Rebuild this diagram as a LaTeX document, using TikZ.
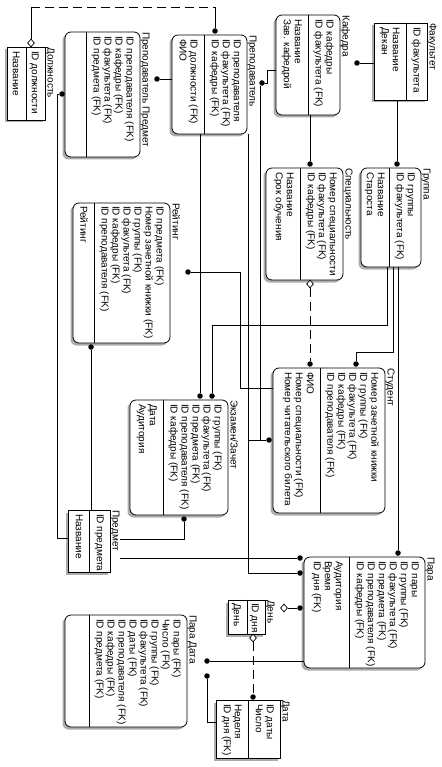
\documentclass[tikz,border=0pt]{standalone}
\usepackage{fontspec}
\setmainfont{Liberation Sans}
\usetikzlibrary{shapes.geometric,shadows,calc}
\newcommand{\ERfont}{\fontsize{10}{11}\selectfont}
\begin{document}
\begin{tikzpicture}[x=1pt,y=-1pt,
  ent/.style={draw, line width=0.8pt, fill=white, inner sep=0,
    drop shadow={shadow xshift=-2.5pt,shadow yshift=-2.5pt,fill=gray!65,opacity=1}},
  dep/.style={ent, rounded corners=6pt},
  ttl/.style={rotate=-90, anchor=base west, inner sep=0, font=\ERfont},
  attrs/.style={rotate=-90, anchor=north west, inner sep=0, align=left, font=\ERfont},
  divl/.style={line width=0.8pt},
  rel/.style={line width=0.8pt},
  nrel/.style={rel, dash pattern=on 9pt off 5pt},
  dot/.style={circle, fill=black, inner sep=0, minimum size=5.5pt},
  dia/.style={diamond, draw, fill=white, line width=0.7pt, inner sep=0, minimum width=7pt, minimum height=8pt}
]
\useasboundingbox (0,0) rectangle (441,767);
\fill[white] (0,0) rectangle (441,767);

% ---------- entities ----------
\node[ent, minimum width=38pt, minimum height=73pt] (dolzh) at (26,83.5) {};
\node[dep, minimum width=75pt, minimum height=125pt] (pp) at (102.5,94.5) {};
\node[dep, minimum width=75pt, minimum height=99pt] (prep) at (209.5,84.5) {};
\node[dep, minimum width=64pt, minimum height=100pt] (kaf) at (308,65) {};
\node[ent, minimum width=53pt, minimum height=77pt] (fak) at (400.5,61.5) {};
\node[dep, minimum width=60pt, minimum height=99pt] (gr) at (391,217.5) {};
\node[dep, minimum width=77pt, minimum height=112pt] (spec) at (304.5,224) {};
\node[dep, minimum width=112pt, minimum height=145pt] (stud) at (329,440.5) {};
\node[dep, minimum width=97pt, minimum height=140pt] (rating) at (121.5,273) {};
\node[dep, minimum width=98pt, minimum height=115pt] (exam) at (179,457.5) {};
\node[ent, minimum width=42pt, minimum height=62pt] (predmet) at (89,541) {};
\node[dep, minimum width=121pt, minimum height=111pt] (para) at (364.5,612.5) {};
\node[ent, minimum width=37pt, minimum height=34pt] (den) at (246.5,617) {};
\node[ent, minimum width=64pt, minimum height=58pt] (data) at (248,729) {};
\node[dep, minimum width=122pt, minimum height=112pt] (pd) at (126,671) {};

% ---------- dividers ----------
\draw[divl] (dolzh.north -| 26,0) -- (dolzh.south -| 26,0);
\draw[divl] (pp.north -| 86,0) -- (pp.south -| 86,0);
\draw[divl] (prep.north -| 204,0) -- (prep.south -| 204,0);
\draw[divl] (kaf.north -| 308,0) -- (kaf.south -| 308,0);
\draw[divl] (fak.north -| 406,0) -- (fak.south -| 406,0);
\draw[divl] (gr.north -| 389,0) -- (gr.south -| 389,0);
\draw[divl] (spec.north -| 300,0) -- (spec.south -| 300,0);
\draw[divl] (stud.north -| 320,0) -- (stud.south -| 320,0);
\draw[divl] (rating.north -| 94,0) -- (rating.south -| 94,0);
\draw[divl] (exam.north -| 163,0) -- (exam.south -| 163,0);
\draw[divl] (predmet.north -| 89,0) -- (predmet.south -| 89,0);
\draw[divl] (para.north -| 349,0) -- (para.south -| 349,0);
\draw[divl] (den.north -| 247,0) -- (den.south -| 247,0);
\draw[divl] (data.north -| 248,0) -- (data.south -| 248,0);
\draw[divl] (pd.north -| 89,0) -- (pd.south -| 89,0);

% ---------- texts ----------
\node[ttl] (dolzhT) at (47.5,47) {Должность};
\node[attrs] (dolzhK) at (39,51) {ID должности};
\node[attrs] (dolzhN) at (20,51) {Название};

\node[ttl] (ppT) at (142.5,32) {Преподаватель Предмет};
\node[attrs] (ppK) at (134,36) {ID преподавателя (FK)\\ID кафедры (FK)\\ID факультета (FK)\\ID предмета (FK)};

\node[ttl] (prepT) at (249.5,35) {Преподаватель};
\node[attrs] (prepK) at (241,39) {ID преподавателя\\ID факультета (FK)\\ID кафедры (FK)};
\node[attrs] (prepN) at (198,39) {ID должности (FK)\\ФИО};

\node[ttl] (kafT) at (342.5,15) {Кафедра};
\node[attrs] (kafK) at (334,19) {ID кафедры\\ID факультета (FK)};
\node[attrs] (kafN) at (302,19) {Название\\Зав. кафедрой};

\node[ttl] (fakT) at (429.5,23) {Факультет};
\node[attrs] (fakK) at (421,27) {ID факультета};
\node[attrs] (fakN) at (400,27) {Название\\Декан};

\node[ttl] (grT) at (423.5,168) {Группа};
\node[attrs] (grK) at (415,172) {ID группы\\ID факультета (FK)};
\node[attrs] (grN) at (385,172) {Название\\Староста};

\node[ttl] (specT) at (345.5,168) {Специальность};
\node[attrs] (specK) at (337,172) {Номер специальности\\ID факультета (FK)\\ID кафедры (FK)};
\node[attrs] (specN) at (294,172) {Название\\Срок обучения};

\node[ttl] (studT) at (387.5,368) {Студент};
\node[attrs] (studK) at (379,372) {Номер зачетной книжки\\ID группы (FK)\\ID факультета (FK)\\ID кафедры (FK)\\ID преподавателя (FK)};
\node[attrs] (studN) at (314,372) {ФИО\\Номер специальности (FK)\\Номер читательского билета};

\node[ttl] (ratingT) at (172.5,203) {Рейтинг};
\node[attrs] (ratingK) at (164,206) {ID предмета (FK)\\Номер зачетной книжки (FK)\\ID группы (FK)\\ID факультета (FK)\\ID кафедры (FK)\\ID преподавателя (FK)};
\node[attrs] (ratingN) at (88,206) {Рейтинг};

\node[ttl] (examT) at (230.5,400) {Экзамен/Зачет};
\node[attrs] (examK) at (222,404) {ID группы (FK)\\ID факультета (FK)\\ID предмета (FK)\\ID преподавателя (FK)\\ID кафедры (FK)};
\node[attrs] (examN) at (157,404) {Дата\\Аудитория};

\node[ttl] (predmetT) at (112.5,510) {Предмет};
\node[attrs] (predmetK) at (104,514) {ID предмета};
\node[attrs] (predmetN) at (83,514) {Название};

\node[ttl] (paraT) at (427.5,557) {Пара};
\node[attrs] (paraK) at (419,561) {ID пары\\ID группы (FK)\\ID факультета (FK)\\ID предмета (FK)\\ID преподавателя (FK)\\ID кафедры (FK)};
\node[attrs] (paraN) at (343,561) {Аудитория\\Время\\ID дня (FK)};

\node[ttl] (denT) at (267.5,600) {День};
\node[attrs] (denK) at (259,603) {ID дня};
\node[attrs] (denN) at (241,603) {День};

\node[ttl] (dataT) at (282.5,700) {Дата};
\node[attrs] (dataK) at (274,704) {ID даты\\Число};
\node[attrs] (dataN) at (242,704) {Неделя\\ID дня (FK)};

\node[ttl] (pdT) at (189.5,615) {Пара Дата};
\node[attrs] (pdK) at (181,619) {ID пары (FK)\\Число (FK)\\ID группы (FK)\\ID факультета (FK)\\ID даты (FK)\\ID преподавателя (FK)\\ID кафедры (FK)\\ID предмета (FK)};

% ---------- relationship ends ----------
\node[dot] (kfD) at (357,63) {};
\node[dot] (fgD) at (397,164) {};
\node[dot] (ksD) at (310,164) {};
\node[dot] (kpD) at (262,83) {};
\node[dot] (ppD) at (157,79) {};
\node[dot] (dpD) at (215,31) {};
\node[dia] (dzZ) at (31,43) {};
\node[dot] (pmD) at (62,94) {};
\node[dot] (rD) at (91,347) {};
\node[dot] (srD) at (188,272) {};
\node[dot] (peD) at (184,519) {};
\node[dot] (pqD) at (300,558) {};
\node[dot] (geD) at (212,396) {};
\node[dot] (xpD) at (200,396) {};
\node[dot] (gsD) at (356,364) {};
\node[dot] (gpD) at (398,553) {};
\node[dia] (ssZ) at (310,284) {};
\node[dot] (ssD) at (310,364) {};
\node[dot] (psD) at (269,440) {};
\node[dot] (ptD) at (300,573) {};
\node[dot] (pdD) at (207,661) {};
\node[dot] (dpdD) at (207,676) {};
\node[dia] (dnZ) at (284,608) {};
\node[dot] (dnD) at (300,608) {};
\node[dia] (ddZ) at (253,638) {};
\node[dot] (ddD) at (253,697) {};

% ---------- relationships ----------
\draw[rel] (fak.west |- kfD) -- (kfD);
\draw[rel] (fak.south -| fgD) -- (fgD);
\draw[rel] (kaf.south -| ksD) -- (ksD);
\draw[rel] (kaf.west |- 0,70) -- (267,70) -- (267,83) -- (kpD);
\draw[rel] (prep.west |- ppD) -- (ppD);
\draw[rel] (dzZ) -- (31,7);
\draw[nrel] (31,7) -- (215,7);
\draw[rel] (215,7) -- (dpD);
\draw[rel] (predmet.west |- 0,538) -- (57,538) -- (57,94) -- (pmD);
\draw[rel] (predmet.north -| rD) -- (rD);
\draw[rel] (stud.west |- 0,388) -- (240,388) -- (240,272) -- (srD);
\draw[rel] ($(predmet.east |- 0,539)+(10,0)$) -- (184,539) -- (peD);
\draw[rel] ($(predmet.east |- pqD)+(10,0)$) -- (pqD);
\draw[rel] (gr.south -| 387,0) -- (387,325) -- (212,325) -- (geD);
\draw[rel] (prep.south -| xpD) -- (xpD);
\draw[rel] (gr.south -| 393,0) -- (393,352) -- (356,352) -- (gsD);
\draw[rel] (gr.south -| gpD) -- (gpD);
\draw[nrel] (ssZ) -- (ssD);
\draw[rel] (kpD.south -| 260,0) -- (260,440) -- (psD);
\draw[rel] (prep.south -| 248,0) -- (248,573) -- (ptD);
\draw[rel] (248,440) -- (psD);
\draw[rel] (para.west |- pdD) -- (pdD);
\draw[rel] (data.west |- 0,722) -- (207,722) -- (dpdD);
\draw[rel] (dnZ) -- (dnD);
\draw[nrel] (ddZ) -- (ddD);
\end{tikzpicture}
\end{document}
